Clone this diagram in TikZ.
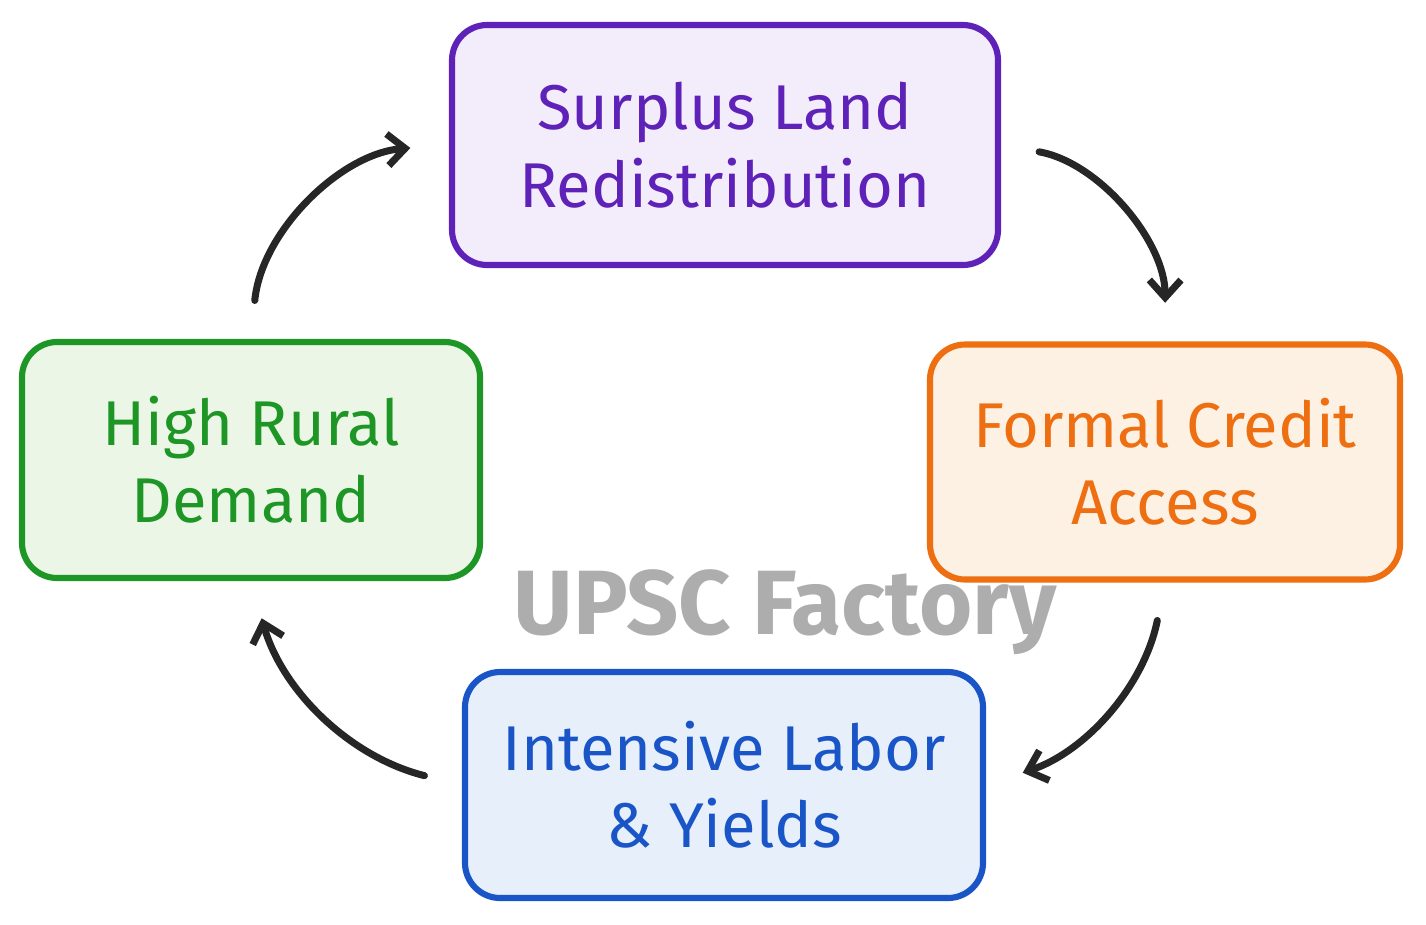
\documentclass[tikz,border=0pt]{standalone}
\usepackage{fontspec}
\setmainfont{Fira Sans}
\usetikzlibrary{arrows.meta}
\definecolor{purp}{HTML}{5E22B8}
\definecolor{purpfill}{HTML}{F2ECFB}
\definecolor{orng}{HTML}{EE6E12}
\definecolor{orngfill}{HTML}{FDF1E4}
\definecolor{blu}{HTML}{1A55C8}
\definecolor{blufill}{HTML}{E7EFFB}
\definecolor{grn}{HTML}{1E9626}
\definecolor{grnfill}{HTML}{EBF6E7}
\begin{document}
\begin{tikzpicture}[x=0.02cm,y=-0.02cm,
      arr/.style={-{Straight Barb[length=10pt,width=18pt]},line width=4pt,
      line cap=round,color=black!85,shorten >=22pt,shorten <=22pt},
      step box/.style={rectangle,rounded corners=20pt,line width=3.5pt,
      align=center,font=\fontsize{36}{44}\selectfont,inner sep=0pt}]

      %% frame
      \useasboundingbox (0,0) rectangle (1426,924);

      %% the four steps of the cycle
      \node[step box,draw=purp,fill=purpfill,text=purp,minimum width=546*0.02cm,minimum height=240*0.02cm]
            (land) at (725,145) {Surplus Land\\Redistribution};
      \node[step box,draw=orng,fill=orngfill,text=orng,minimum width=470*0.02cm,minimum height=235*0.02cm]
            (credit) at (1165,462) {Formal Credit\\Access};
      \node[step box,draw=blu,fill=blufill,text=blu,minimum width=518*0.02cm,minimum height=226*0.02cm]
            (labor) at (724,785) {Intensive Labor\\\& Yields};
      \node[step box,draw=grn,fill=grnfill,text=grn,minimum width=458*0.02cm,minimum height=236*0.02cm]
            (demand) at (251,460) {High Rural\\Demand};

      %% watermark
      \node[text=black!32,font=\fontsize{52}{60}\selectfont\bfseries] (mark) at (785,612) {UPSC Factory};

      %% cycle arrows
      \draw[arr] (land.east) to[bend left=40] (credit.north);
      \draw[arr] (credit.south) to[bend left=30] (labor.east);
      \draw[arr] (labor.west) to[bend left=30] (demand.south);
      \draw[arr] (demand.north) to[bend left=40] (land.west);
\end{tikzpicture}
\end{document}
